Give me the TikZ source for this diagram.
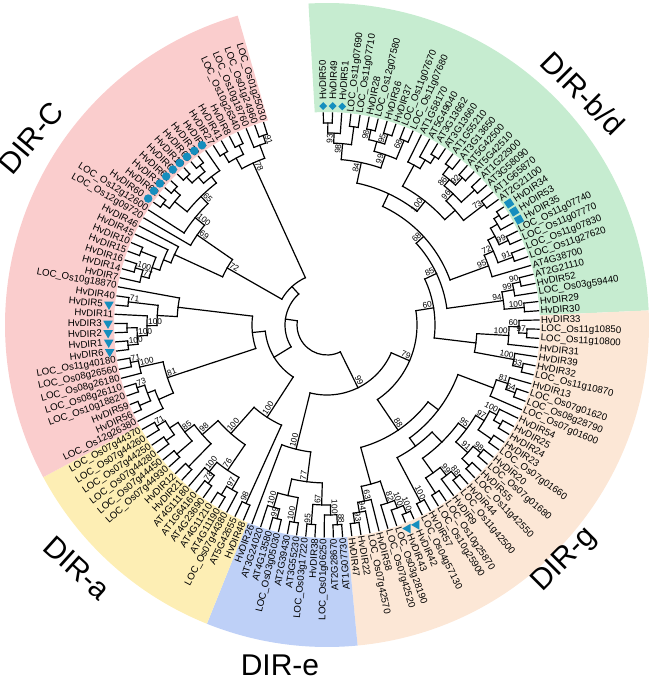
\documentclass[tikz,border=0pt]{standalone}
\usepackage{fontspec}
\setmainfont{Liberation Sans}
\usetikzlibrary{shapes.geometric}
\definecolor{pinkC}{RGB}{250,205,205}
\definecolor{greenBD}{RGB}{198,236,208}
\definecolor{peachG}{RGB}{252,231,214}
\definecolor{blueE}{RGB}{190,208,247}
\definecolor{yellowA}{RGB}{253,238,180}
\definecolor{markblue}{RGB}{22,142,190}

\tikzset{
  branch/.style={line width=1.2pt, line cap=rect},
  leaflab/.style={font=\fontsize{9.7}{10}\selectfont, inner sep=0pt},
  bslab/.style={font=\fontsize{8.3}{9}\selectfont, inner sep=1pt},
  cladelab/.style={font=\fontsize{30}{34}\selectfont, inner sep=0pt},
  dmark/.style={diamond, fill=markblue, inner sep=0pt, minimum size=8pt},
  smark/.style={rectangle, fill=markblue, inner sep=0pt, minimum size=7.5pt},
  tdown/.style={regular polygon, regular polygon sides=3, shape border rotate=180, fill=markblue, inner sep=0pt, minimum size=11pt},
  tleft/.style={regular polygon, regular polygon sides=3, shape border rotate=90, fill=markblue, inner sep=0pt, minimum size=11pt},
  cmark/.style={circle, fill=markblue, inner sep=0pt, minimum size=8.5pt}
}

% coloured band between two angles
\newcommand\sector[3]{\fill[#1] (#2:213) arc[start angle=#2, end angle=#3, radius=213] -- (#3:322) arc[start angle=#3, end angle=#2, radius=322] -- cycle;}

% clade: name, radius, children, bootstrap
\newcommand\clade[4]{%
  \gdef\cfirst{}%
  \foreach \cn in {#3}{%
    \edef\chA{\csname A@\cn\endcsname}\edef\chR{\csname R@\cn\endcsname}%
    \draw[branch] (\cn) -- (\chA:#2);
    \ifx\cfirst\empty\xdef\cfirst{\chA}\fi
    \xdef\clast{\chA}}%
  \draw[branch] (\cfirst:#2) arc[start angle=\cfirst, end angle=\clast, radius=#2];
  \pgfmathsetmacro\cmid{(\cfirst+\clast)/2}%
  \expandafter\xdef\csname A@#1\endcsname{\cmid}%
  \expandafter\xdef\csname R@#1\endcsname{#2}%
  \coordinate (#1) at (\cmid:#2);
  \ifx\relax#4\relax\else
    \pgfmathtruncatemacro\isleft{cos(\cmid)<0}%
    \ifnum\isleft=1
      \node[bslab, rotate=\cmid+180, anchor=south west] (bs#1) at (#1) {#4};
    \else
      \node[bslab, rotate=\cmid, anchor=south east] (bs#1) at (#1) {#4};
    \fi
  \fi}

\begin{document}
\begin{tikzpicture}[x=1pt, y=1pt]
\useasboundingbox (-327,-352) rectangle (323,325);

\sector{greenBD}{93.3}{2.6}
\sector{peachG}{2.6}{-84.55}
\sector{blueE}{-84.55}{-111.9}
\sector{yellowA}{-111.9}{-151.8}
\sector{pinkC}{-151.8}{-253.9}

\foreach \k in {1,2,3,24,25,26,64,65,107,108,109,110,112,124,...,132}
  {\expandafter\xdef\csname M@\k\endcsname{1}}

\foreach \t [count=\i] in {HvDIR50, HvDIR49, HvDIR51, LOC\_Os11g07690, LOC\_Os11g07710,
  HvDIR28, LOC\_Os12g07580, HvDIR36, HvDIR37, LOC\_Os11g07670, LOC\_Os11g07680,
  AT1G58170, AT5G49040, AT3G13662, AT3G13660, AT1G55210, AT3G13650, AT5G42500,
  AT5G42510, AT1G22900, AT3G58090, AT1G65870, AT2G21100, HvDIR34, HvDIR53, HvDIR35,
  LOC\_Os11g07740, LOC\_Os11g07770, LOC\_Os11g07830, LOC\_Os11g27620, AT4G38700,
  AT2G21110, HvDIR52, LOC\_Os03g59440, HvDIR29, HvDIR30,
  HvDIR33, LOC\_Os11g10850, LOC\_Os11g10800, HvDIR31, HvDIR39, HvDIR32, LOC\_Os11g10870,
  HvDIR13, LOC\_Os07g01620, LOC\_Os08g28790, LOC\_Os07g01600, HvDIR54, HvDIR25, HvDIR24,
  HvDIR23, LOC\_Os07g01660, HvDIR20, LOC\_Os07g01680, HvDIR55, LOC\_Os11g42550, HvDIR44,
  LOC\_Os11g42500, HvDIR9, LOC\_Os10g25870, LOC\_Os10g25900, HvDIR57, LOC\_Os04g57130,
  HvDIR42, HvDIR43, LOC\_Os03g28190, LOC\_Os07g42520, HvDIR58, LOC\_Os07g42570, HvDIR22,
  HvDIR47,
  AT1G07730, AT2G28670, LOC\_Os01g06250, HvDIR38, LOC\_Os03g17220, AT3G55230, AT2G39430,
  LOC\_Os03g05030, AT4G13580, AT3G24020, HvDIR26,
  HvDIR48, AT5G42655, LOC\_Os07g44380, AT4G11190, AT4G11210, AT4G23690, AT1G64160,
  AT4G11180, HvDIR21, HvDIR12, LOC\_Os07g44930, LOC\_Os07g44450, LOC\_Os07g44280,
  LOC\_Os07g44250, LOC\_Os07g44260, LOC\_Os07g44370,
  LOC\_Os12g26380, HvDIR56, HvDIR59, LOC\_Os10g18820, LOC\_Os08g26110, LOC\_Os08g26180,
  LOC\_Os08g26560, LOC\_Os11g40180, HvDIR6, HvDIR1, HvDIR2, HvDIR3, HvDIR11, HvDIR5,
  HvDIR40, LOC\_Os10g18870, HvDIR7, HvDIR14, HvDIR16, HvDIR15, HvDIR10, HvDIR45, HvDIR46,
  LOC\_Os12g09720, LOC\_Os12g12600, HvDIR60, HvDIR62, HvDIR17, HvDIR61, HvDIR64, HvDIR19,
  HvDIR63, HvDIR18, HvDIR4, HvDIR27, HvDIR41, HvDIR8, LOC\_Os10g26340, LOC\_Os10g18760,
  LOC\_Os01g24960, LOC\_Os01g25030}{
  \pgfmathsetmacro\leafa{91-(\i-1)*2.49}
  \expandafter\xdef\csname A@l\i\endcsname{\leafa}
  \expandafter\xdef\csname R@l\i\endcsname{212}
  \coordinate (l\i) at (\leafa:212);
  \ifcsname M@\i\endcsname \def\lr{225}\else \def\lr{214}\fi
  \pgfmathtruncatemacro\lft{or(\leafa<-84,\leafa>92)}
  \ifnum\lft=1
    \node[leaflab, rotate=\leafa+180, anchor=east] (lab\i) at (\leafa:\lr) {\t};
  \else
    \node[leaflab, rotate=\leafa, anchor=west] (lab\i) at (\leafa:\lr) {\t};
  \fi
}

% DIR-b/d
\clade{n1}{202}{l1,l2}{}
\clade{n2}{192}{n1,l3}{93}
\clade{n3}{200}{l4,l5}{}
\clade{n4}{182}{n2,n3}{98}
\clade{n5}{200}{l6,l7}{98}
\clade{n6}{200}{l8,l9}{95}
\clade{n7}{190}{n5,n6}{}
\clade{n8}{200}{l10,l11}{68}
\clade{n9}{180}{n7,n8}{99}
\clade{n10}{166}{n4,n9}{84}
\clade{a1}{200}{l14,l15}{}
\clade{a2}{192}{l13,a1}{}
\clade{a3}{182}{l12,a2}{}
\clade{a4}{200}{l16,l17}{}
\clade{a5}{200}{l18,l19}{92}
\clade{a6}{190}{a4,a5}{86}
\clade{a7}{200}{l20,l21}{}
\clade{a8}{182}{a6,a7}{96}
\clade{a9}{198}{l22,l23}{73}
\clade{a10}{172}{a8,a9}{}
\clade{a11}{158}{a3,a10}{100}
\clade{b1}{204}{l24,l25}{}
\clade{b2}{198}{b1,l26}{}
\clade{b3}{200}{l27,l28}{99}
\clade{b4}{190}{b2,b3}{}
\clade{b5}{198}{l29,l30}{91}
\clade{b6}{182}{b4,b5}{72}
\clade{b7}{172}{b6,l31}{95}
\clade{bd1}{145}{n10,a11}{}
\clade{bd2}{131}{bd1,b7}{68}
\clade{c1}{198}{l32,l33}{90}
\clade{c2}{190}{c1,l34}{99}
\clade{c3}{198}{l35,l36}{100}
\clade{c4}{178}{c2,c3}{94}
\clade{bd3}{121}{bd2,c4}{85}
% DIR-g
\clade{g1}{200}{l38,l39}{97}
\clade{g2}{192}{l37,g1}{60}
\clade{g3}{182}{g2,l40}{100}
\clade{g4}{200}{l42,l43}{83}
\clade{g5}{190}{l41,g4}{100}
\clade{g6}{150}{g3,g5}{}
\clade{x60}{108}{bd3,g6}{60}
\clade{h1}{200}{l45,l46}{64}
\clade{h2}{190}{l44,h1}{81}
\clade{h3}{178}{h2,l47}{}
\clade{h4}{200}{l49,l50}{}
\clade{h5}{192}{l48,h4}{100}
\clade{h6}{200}{l51,l52}{}
\clade{h7}{184}{h5,h6}{97}
\clade{h8}{200}{l53,l54}{98}
\clade{h9}{200}{l55,l56}{}
\clade{h10}{190}{h8,h9}{91}
\clade{h11}{174}{h7,h10}{95}
\clade{h12}{200}{l57,l58}{88}
\clade{h13}{192}{h12,l59}{99}
\clade{h14}{200}{l60,l61}{}
\clade{h15}{182}{h13,h14}{}
\clade{h16}{164}{h11,h15}{}
\clade{h17}{200}{l62,l63}{100}
\clade{h18}{150}{h16,h17}{}
\clade{h19}{140}{h3,h18}{}
\clade{k1}{204}{l64,l65}{100}
\clade{k2}{196}{k1,l66}{100}
\clade{k3}{188}{k2,l67}{82}
\clade{k4}{200}{l70,l71}{93}
\clade{k5}{190}{l69,k4}{94}
\clade{k6}{180}{l68,k5}{63}
\clade{k7}{165}{k3,k6}{}
\clade{G2}{127}{h19,k7}{88}
\clade{x79}{90}{x60,G2}{79}
% DIR-e
\clade{e1}{200}{l72,l73}{88}
\clade{e2}{190}{e1,l74}{100}
\clade{e3}{200}{l75,l76}{95}
\clade{e4}{180}{e2,e3}{67}
\clade{e5}{200}{l77,l78}{100}
\clade{e6}{200}{l79,l80}{99}
\clade{e7}{190}{e6,l81}{100}
\clade{e8}{175}{e5,e7}{}
\clade{e9}{158}{e4,e8}{77}
\clade{e10}{128}{e9,l82}{100}
\clade{x99}{70}{x79,e10}{99}
% DIR-a
\clade{y1}{196}{l83,l84}{98}
\clade{y2}{200}{l86,l87}{}
\clade{y3}{190}{l85,y2}{97}
\clade{y4}{198}{l88,l89}{78}
\clade{y5}{188}{y4,l90}{100}
\clade{y6}{176}{y3,y5}{76}
\clade{y7}{198}{l91,l92}{}
\clade{y8}{198}{l93,l94}{}
\clade{y9}{198}{l95,l96}{}
\clade{y10}{198}{l97,l98}{71}
\clade{y11}{188}{y9,y10}{}
\clade{y12}{178}{y8,y11}{85}
\clade{y13}{166}{y7,y12}{98}
\clade{y14}{145}{y6,y13}{100}
\clade{y15}{110}{y1,y14}{100}
% DIR-C
\clade{p1}{200}{l105,l106}{71}
\clade{p2}{192}{l104,p1}{100}
\clade{p3}{200}{l102,l103}{73}
\clade{p4}{204}{l100,l101}{}
\clade{p5}{192}{p4,p3}{}
\clade{p6}{184}{l99,p5}{}
\clade{p7}{168}{p6,p2}{81}
\clade{q1}{200}{l107,l108}{100}
\clade{q2}{200}{l109,l110}{}
\clade{q3}{190}{q1,q2}{100}
\clade{q4}{180}{q3,l111}{100}
\clade{q5}{200}{l112,l113}{71}
\clade{q6}{170}{q4,q5}{}
\clade{q7}{150}{q6,l114}{}
\clade{r1}{200}{l116,l117}{100}
\clade{r2}{192}{l115,r1}{77}
\clade{r3}{200}{l118,l119}{}
\clade{r4}{184}{r2,r3}{}
\clade{r5}{176}{r4,l120}{}
\clade{r6}{168}{r5,l121}{}
\clade{s1}{204}{l124,l125}{}
\clade{s2}{204}{l126,l127}{}
\clade{s3}{196}{s1,s2}{}
\clade{s4}{204}{l128,l129}{}
\clade{s5}{204}{l130,l131}{}
\clade{s6}{196}{s4,s5}{}
\clade{s7}{188}{s6,l132}{}
\clade{s8}{180}{s3,s7}{65}
\clade{s9}{170}{l123,s8}{100}
\clade{s10}{158}{l122,s9}{69}
\clade{r7}{115}{r6,s10}{72}
\clade{t1}{200}{l138,l139}{91}
\clade{t2}{192}{l137,t1}{}
\clade{t3}{200}{l135,l136}{}
\clade{t4}{200}{l133,l134}{}
\clade{t5}{190}{t4,t3}{}
\clade{t6}{178}{t5,t2}{78}
% backbone
\clade{m1}{75}{p7,q7}{}
\clade{m2}{62}{y15,m1}{}
\clade{m3}{52}{r7,t6}{}
\clade{m4}{42}{m2,m3}{}
\clade{root}{30}{x99,m4}{}

% markers
\foreach \k in {1,2,3}{\pgfmathsetmacro\leafa{91-(\k-1)*2.49}
  \node[dmark] (mk\k) at (\leafa:219) {};}
\foreach \k in {24,25,26}{\pgfmathsetmacro\leafa{91-(\k-1)*2.49}
  \node[smark, rotate=\leafa] (mk\k) at (\leafa:219) {};}
\foreach \k in {64,65}{\pgfmathsetmacro\leafa{91-(\k-1)*2.49}
  \node[tleft] (mk\k) at (\leafa:219) {};}
\foreach \k in {107,108,109,110,112}{\pgfmathsetmacro\leafa{91-(\k-1)*2.49}
  \node[tdown] (mk\k) at (\leafa:219) {};}
\foreach \k in {124,...,132}{\pgfmathsetmacro\leafa{91-(\k-1)*2.49}
  \node[cmark] (mk\k) at (\leafa:219) {};}

\node[cladelab, rotate=50] (dirC) at (-296,187) {DIR-C};
\node[cladelab, rotate=-45] (dirBD) at (256,232) {DIR-b/d};
\node[cladelab, rotate=-42] (dirA) at (-250,-243) {DIR-a};
\node[cladelab, rotate=45] (dirG) at (238,-235) {DIR-g};
\node[cladelab] (dirE) at (-47,-340) {DIR-e};
\end{tikzpicture}
\end{document}
